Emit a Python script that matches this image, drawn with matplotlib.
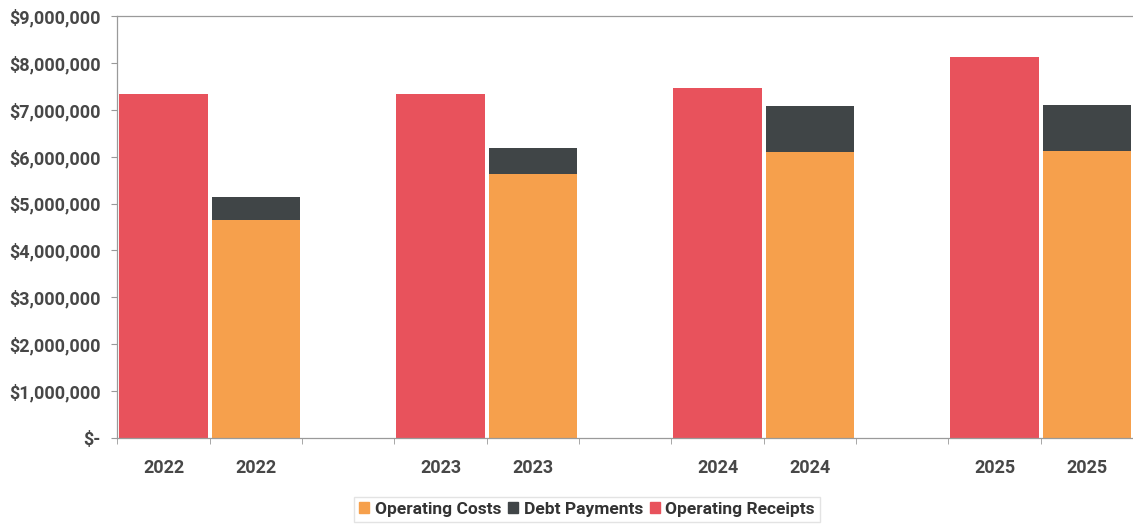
import matplotlib.pyplot as plt
from matplotlib.ticker import FuncFormatter, MultipleLocator
from matplotlib.patches import Patch

plt.rcParams['font.family'] = ['Roboto', 'DejaVu Sans']

years = ['2022', '2023', '2024', '2025']
operating_receipts = [7330000, 7330000, 7460000, 8130000]
operating_costs = [4650000, 5620000, 6090000, 6120000]
debt_payments = [490000, 560000, 1000000, 980000]

red = '#E8525C'
orange = '#F6A04C'
dark = '#404547'
text_col = '#474747'

fig = plt.figure(figsize=(11.33, 5.25), dpi=100)
ax = fig.add_axes([0.1036, 0.1657, 0.8964, 0.8038])

# two bars per year, one empty slot between years
rec_x = [3 * i for i in range(len(years))]
cost_x = [3 * i + 1 for i in range(len(years))]
w = 0.955

ax.bar(rec_x, operating_receipts, width=w, color=red)
ax.bar(cost_x, operating_costs, width=w, color=orange)
ax.bar(cost_x, debt_payments, width=w, bottom=operating_costs, color=dark)

ax.set_xlim(-0.5, 10.36)
ax.set_ylim(0, 9000000)
ax.yaxis.set_major_locator(MultipleLocator(1000000))


def money(v, pos):
    if v == 0:
        return '$-'
    return '${:,.0f}'.format(v)


ax.yaxis.set_major_formatter(FuncFormatter(money))

ax.set_xticks(rec_x + cost_x)
ax.set_xticklabels(years + years)
ax.set_xticks([x + 0.5 for x in range(-1, 11)], minor=True)
ax.tick_params(axis='x', which='major', length=0, pad=15)
ax.tick_params(axis='x', which='minor', length=4, color='#999999')
ax.tick_params(axis='y', length=4, color='#999999', pad=8)
for lab in ax.get_xticklabels() + ax.get_yticklabels():
    lab.set_fontsize(13)
    lab.set_fontweight('bold')
    lab.set_color(text_col)

for side in ['left', 'bottom', 'top']:
    ax.spines[side].set_color('#9a9a9a')
    ax.spines[side].set_linewidth(0.9)
ax.spines['right'].set_visible(False)

handles = [Patch(color=orange, label='Operating Costs'),
           Patch(color=dark, label='Debt Payments'),
           Patch(color=red, label='Operating Receipts')]
leg = fig.legend(handles=handles, loc='center', bbox_to_anchor=(0.518, 0.03),
                 ncol=3, frameon=True, fancybox=False, edgecolor='#dddddd',
                 handlelength=0.6, handleheight=0.6, handletextpad=0.3,
                 columnspacing=0.4, borderpad=0.3,
                 prop={'size': 12.5, 'weight': 'bold'})
for t in leg.get_texts():
    t.set_color('#333333')

fig.savefig('out.png', dpi=100)
